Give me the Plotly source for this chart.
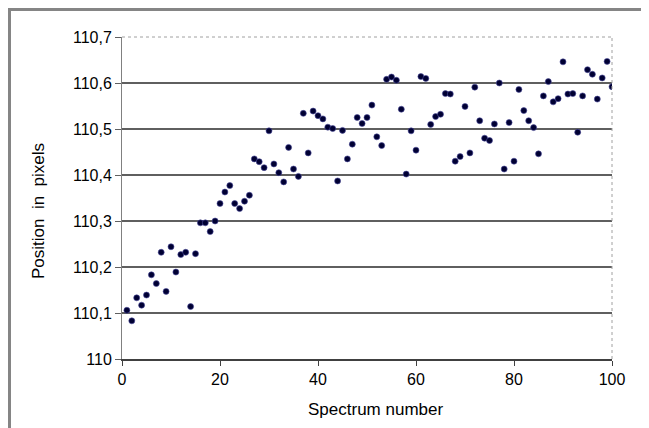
import plotly.graph_objects as go

spectrum = list(range(1, 101))
position = [
    110.106, 110.083, 110.133, 110.117, 110.139, 110.183, 110.164, 110.232, 110.147, 110.244,
    110.189, 110.227, 110.232, 110.114, 110.229, 110.296, 110.296, 110.277, 110.300, 110.338,
    110.363, 110.377, 110.338, 110.327, 110.343, 110.356, 110.435, 110.429, 110.416, 110.496,
    110.424, 110.405, 110.385, 110.460, 110.413, 110.397, 110.534, 110.448, 110.539, 110.529,
    110.522, 110.504, 110.501, 110.387, 110.497, 110.435, 110.467, 110.525, 110.512, 110.525,
    110.552, 110.483, 110.464, 110.608, 110.613, 110.606, 110.543, 110.402, 110.496, 110.454,
    110.614, 110.610, 110.510, 110.527, 110.532, 110.577, 110.576, 110.430, 110.440, 110.549,
    110.448, 110.591, 110.518, 110.480, 110.475, 110.511, 110.600, 110.413, 110.514, 110.430,
    110.586, 110.540, 110.518, 110.503, 110.446, 110.572, 110.603, 110.559, 110.566, 110.646,
    110.576, 110.577, 110.493, 110.572, 110.629, 110.619, 110.565, 110.611, 110.647, 110.592,
]

x_ticks = [0, 20, 40, 60, 80, 100]
y_ticks = [110.0, 110.1, 110.2, 110.3, 110.4, 110.5, 110.6, 110.7]
y_tick_text = ["110", "110,1", "110,2", "110,3", "110,4", "110,5", "110,6", "110,7"]

OFF = 8  # page body margin
W, H = 649 - OFF, 428 - OFF
L, T = 122 - OFF, 37 - OFF
pw, ph = 490, 322
R, B = W - L - pw, H - T - ph

def px(xp):
    return (xp - OFF - L) / pw

def py(yp):
    return (T + ph - (yp - OFF)) / ph

fig = go.Figure()
fig.add_trace(go.Scatter(
    x=spectrum, y=position, mode="markers",
    marker=dict(size=6, color="#000033", line=dict(width=0.6, color="#4a4a9a")),
    hoverinfo="x+y", showlegend=False,
))

shapes = []
for v in y_ticks[1:-1]:
    shapes.append(dict(type="line", xref="paper", yref="y", x0=0, x1=1, y0=v, y1=v,
                       line=dict(color="#2a2a2a", width=1.6), layer="below"))
shapes.append(dict(type="line", xref="paper", yref="paper", x0=0, x1=1, y0=1, y1=1,
                   line=dict(color="#a0a0a0", width=1, dash="dot")))
shapes.append(dict(type="line", xref="paper", yref="paper", x0=1, x1=1, y0=0, y1=1,
                   line=dict(color="#a0a0a0", width=1, dash="dot")))
shapes.append(dict(type="line", xref="paper", yref="paper", x0=px(7), x1=px(660), y0=py(9.5), y1=py(9.5),
                   line=dict(color="#858585", width=3)))
shapes.append(dict(type="line", xref="paper", yref="paper", x0=px(9.5), x1=px(9.5), y0=py(8), y1=py(440),
                   line=dict(color="#858585", width=3)))

fig.update_layout(
    width=W, height=H,
    margin=dict(l=L, r=R, t=T, b=B),
    paper_bgcolor="white", plot_bgcolor="white",
    font=dict(family="Liberation Sans, Arial, sans-serif", size=16, color="#000000"),
    separators=", ",
    shapes=shapes,
    xaxis=dict(range=[0, 100], tickvals=x_ticks, showgrid=False, zeroline=False,
               showline=True, linecolor="#404040", linewidth=1.5,
               ticks="outside", ticklen=5, tickcolor="#404040", tickfont=dict(size=16)),
    yaxis=dict(range=[110.0, 110.7], tickvals=y_ticks, ticktext=y_tick_text,
               showgrid=False, zeroline=False,
               showline=True, linecolor="#808080", linewidth=1,
               ticks="outside", ticklen=6, tickcolor="#606060", tickfont=dict(size=16)),
    annotations=[
        dict(text="Spectrum number", xref="paper", yref="paper", x=px(375), y=py(410),
             showarrow=False, font=dict(size=17), xanchor="center", yanchor="middle"),
        dict(text="Position  in  pixels", xref="paper", yref="paper", x=px(38), y=py(211),
             showarrow=False, font=dict(size=17), textangle=-90, xanchor="center", yanchor="middle"),
    ],
)

fig.write_html("out.html")
